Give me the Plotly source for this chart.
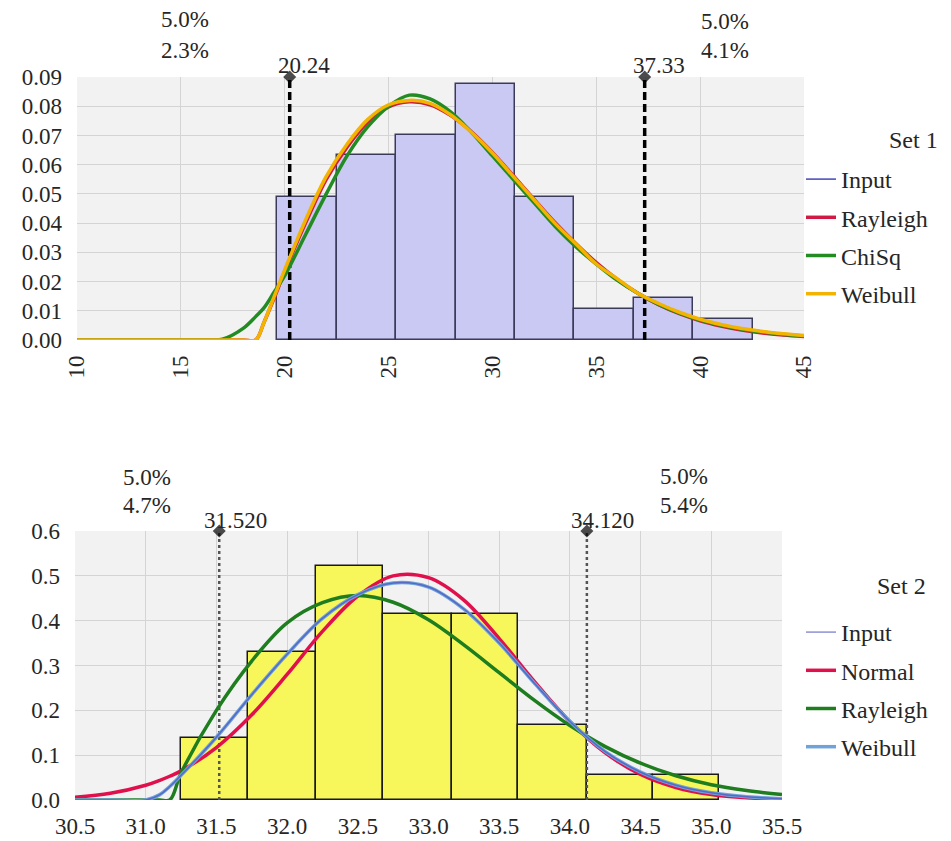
import plotly.graph_objects as go

# ---------------- Set 1 data ----------------
set1_bin_edges = [19.65, 22.51, 25.37, 28.23, 31.09, 33.95, 36.81, 39.67, 42.53]
set1_bin_heights = [0.049, 0.0632, 0.0702, 0.0876, 0.049, 0.0105, 0.0143, 0.0072]

set1_x = [10, 12, 14, 16, 17, 18, 18.6, 19, 19.5, 20, 21, 22, 23, 24, 25, 26, 27, 28, 29, 30,
          31, 32, 33, 34, 35, 36, 37, 38, 39, 40, 41, 42, 43, 44, 45]
set1_rayleigh = [0, 0, 0, 0, 0, 0, 0, 0.006, 0.0145, 0.0235, 0.040, 0.055, 0.066, 0.0745, 0.0798,
                 0.0815, 0.0805, 0.0768, 0.0712, 0.0642, 0.0563, 0.0482, 0.0403, 0.0331, 0.0265,
                 0.0208, 0.0160, 0.0121, 0.0090, 0.0066, 0.0048, 0.0034, 0.0024, 0.0017, 0.0012]
set1_chisq = [0, 0, 0, 0, 0.0003, 0.004, 0.008, 0.011, 0.0165, 0.022, 0.036, 0.050, 0.063, 0.073,
              0.080, 0.0838, 0.0825, 0.078, 0.071, 0.063, 0.055, 0.047, 0.039, 0.032, 0.026,
              0.0205, 0.016, 0.0122, 0.0092, 0.0068, 0.005, 0.0037, 0.0027, 0.0019, 0.0014]
set1_weibull = [0, 0, 0, 0, 0, 0, 0, 0.006, 0.015, 0.024, 0.041, 0.056, 0.067, 0.0755, 0.0805,
                0.082, 0.081, 0.077, 0.071, 0.064, 0.056, 0.048, 0.040, 0.033, 0.026,
                0.021, 0.016, 0.0125, 0.0095, 0.0071, 0.0053, 0.0039, 0.0029, 0.0021, 0.0015]
set1_input = set1_weibull
set1_cutoffs = [20.24, 37.33]
set1_pct_left = ["5.0%", "2.3%"]
set1_pct_right = ["5.0%", "4.1%"]

# ---------------- Set 2 data ----------------
set2_bin_edges = [31.247, 31.726, 32.204, 32.68, 33.164, 33.635, 34.119, 34.59, 35.057]
set2_bin_heights = [0.138, 0.331, 0.523, 0.414, 0.414, 0.167, 0.056, 0.056]

set2_x = [30.5, 30.75, 31.0, 31.1, 31.17, 31.25, 31.5, 31.75, 32.0, 32.25, 32.5, 32.75, 33.0,
          33.25, 33.5, 33.75, 34.0, 34.25, 34.5, 34.75, 35.0, 35.25, 35.5]
set2_normal = [0.006, 0.015, 0.033, 0.044, 0.053, 0.065, 0.117, 0.19, 0.28, 0.376, 0.455, 0.500,
               0.496, 0.446, 0.36, 0.264, 0.175, 0.105, 0.057, 0.028, 0.0124, 0.005, 0.002]
set2_rayleigh = [0, 0, 0, 0, 0, 0.06, 0.2, 0.31, 0.395, 0.44, 0.456, 0.441, 0.402, 0.346, 0.284,
                 0.222, 0.166, 0.119, 0.082, 0.054, 0.034, 0.021, 0.012]
set2_weibull = [0, 0, 0, 0.012, 0.03, 0.055, 0.14, 0.235, 0.325, 0.405, 0.458, 0.484, 0.475,
                0.426, 0.35, 0.26, 0.175, 0.108, 0.062, 0.033, 0.016, 0.007, 0.003]
set2_input = set2_weibull
set2_cutoffs = [31.520, 34.120]
set2_pct_left = ["5.0%", "4.7%"]
set2_pct_right = ["5.0%", "5.4%"]

FONT = "Liberation Serif"
TXT = "#262626"
FS = 23
LFS = 24

# the page body adds an 8px margin; positions below are given in screenshot pixels
W, H = 943, 833
def px_x(p): return (p - 8) / W
def px_y(p): return 1 - (p - 8) / H

fig = go.Figure()

# ---- Set 1 bars
c1 = [(a + b) / 2 for a, b in zip(set1_bin_edges[:-1], set1_bin_edges[1:])]
w1 = [b - a for a, b in zip(set1_bin_edges[:-1], set1_bin_edges[1:])]
fig.add_trace(go.Bar(x=c1, y=set1_bin_heights, width=w1, marker=dict(color="#C9C9F4",
              line=dict(color="#3A3A5A", width=1.5)), showlegend=False, xaxis="x", yaxis="y",
              hoverinfo="skip"))
for v in set1_cutoffs:
    fig.add_trace(go.Scatter(x=[v, v], y=[0, 0.09], mode="lines+markers",
                             line=dict(color="black", width=3.5, dash="8px,4px"),
                             marker=dict(symbol="diamond", size=[0, 10], color="black",
                                         line=dict(color="black", width=0)),
                             showlegend=False, xaxis="x", yaxis="y", cliponaxis=False))
fig.add_trace(go.Scatter(x=set1_x, y=set1_input, name="Input", mode="lines", line=dict(color="#4444BB", width=1.5, shape="spline"), legend="legend", xaxis="x", yaxis="y"))
fig.add_trace(go.Scatter(x=set1_x, y=set1_rayleigh, name="Rayleigh", mode="lines", line=dict(color="#D01A44", width=3.5, shape="spline"), legend="legend", xaxis="x", yaxis="y"))
fig.add_trace(go.Scatter(x=set1_x, y=set1_chisq, name="ChiSq", mode="lines", line=dict(color="#228B22", width=3.5, shape="spline"), legend="legend", xaxis="x", yaxis="y"))
fig.add_trace(go.Scatter(x=set1_x, y=set1_weibull, name="Weibull", mode="lines", line=dict(color="#F2B400", width=3.5, shape="spline"), legend="legend", xaxis="x", yaxis="y"))

# ---- Set 2 bars
c2 = [(a + b) / 2 for a, b in zip(set2_bin_edges[:-1], set2_bin_edges[1:])]
w2 = [b - a for a, b in zip(set2_bin_edges[:-1], set2_bin_edges[1:])]
fig.add_trace(go.Bar(x=c2, y=set2_bin_heights, width=w2, marker=dict(color="#F7F75C",
              line=dict(color="#1A1A1A", width=1.5)), showlegend=False, xaxis="x2", yaxis="y2",
              hoverinfo="skip"))
for v in set2_cutoffs:
    fig.add_trace(go.Scatter(x=[v, v], y=[0, 0.6], mode="lines+markers",
                             line=dict(color="#555555", width=2.5, dash="dot"),
                             marker=dict(symbol="diamond", size=[0, 10], color="black",
                                         line=dict(color="black", width=0)),
                             showlegend=False, xaxis="x2", yaxis="y2", cliponaxis=False))
fig.add_trace(go.Scatter(x=set2_x, y=set2_normal, name="Normal", mode="lines", line=dict(color="#E0104C", width=3.5, shape="spline"), legend="legend2", xaxis="x2", yaxis="y2", legendrank=2))
fig.add_trace(go.Scatter(x=set2_x, y=set2_rayleigh, name="Rayleigh", mode="lines", line=dict(color="#1E7D1E", width=3.5, shape="spline"), legend="legend2", xaxis="x2", yaxis="y2", legendrank=3))
fig.add_trace(go.Scatter(x=set2_x, y=set2_weibull, name="Weibull", mode="lines", line=dict(color="#6FA3DA", width=3.5, shape="spline"), legend="legend2", xaxis="x2", yaxis="y2", legendrank=4))
fig.add_trace(go.Scatter(x=set2_x, y=set2_input, name="Input", mode="lines", line=dict(color="#4444BB", width=1.5, shape="spline"), legend="legend2", xaxis="x2", yaxis="y2", legendrank=1, opacity=0.6))

axis_common = dict(showgrid=True, gridcolor="#D4D4D4", gridwidth=1, zeroline=False,
                   showline=False, ticks="", automargin=False,
                   tickfont=dict(family=FONT, size=FS, color=TXT))

def ann(text, x, y, **kw):
    d = dict(text=text, x=px_x(x), y=px_y(y), xref="paper", yref="paper", showarrow=False,
             xanchor="center", yanchor="middle", font=dict(family=FONT, size=FS, color=TXT))
    d.update(kw)
    return d

annotations = []
for txt, yy in zip(set1_pct_left, [20, 50]):
    annotations.append(ann(txt, 185, yy))
for txt, yy in zip(set1_pct_right, [21, 50]):
    annotations.append(ann(txt, 725, yy))
for txt, yy in zip(set2_pct_left, [477, 505]):
    annotations.append(ann(txt, 147, yy))
for txt, yy in zip(set2_pct_right, [476, 505]):
    annotations.append(ann(txt, 684, yy))
for v in set1_cutoffs:
    annotations.append(dict(text=f"{v:.2f}", x=v, y=0.09, xref="x", yref="y", showarrow=False,
                            xanchor="center", yanchor="middle", xshift=14, yshift=12,
                            font=dict(family=FONT, size=FS, color=TXT)))
for v in set2_cutoffs:
    annotations.append(dict(text=f"{v:.3f}", x=v, y=0.6, xref="x2", yref="y2", showarrow=False,
                            xanchor="center", yanchor="middle", xshift=16, yshift=11,
                            font=dict(family=FONT, size=FS, color=TXT)))
annotations.append(ann("Set 1", 940, 140, xanchor="right", font=dict(family=FONT, size=LFS, color=TXT)))
annotations.append(ann("Set 2", 928, 586, xanchor="right", font=dict(family=FONT, size=LFS, color=TXT)))

legend_common = dict(font=dict(family=FONT, size=LFS, color=TXT), bgcolor="rgba(0,0,0,0)",
                     xanchor="left", yanchor="top", tracegroupgap=4, itemwidth=30,
                     traceorder="grouped")

fig.update_layout(
    width=W, height=H, margin=dict(l=0, r=0, t=0, b=0), paper_bgcolor="white",
    plot_bgcolor="#F2F2F2", barmode="overlay", bargap=0,
    font=dict(family=FONT, color=TXT),
    xaxis=dict(axis_common, domain=[px_x(77), px_x(804)], range=[10, 45], dtick=5, tick0=10,
               tickangle=-90, anchor="y", ticklabelstandoff=10),
    yaxis=dict(axis_common, domain=[px_y(340), px_y(77)], range=[0, 0.09], dtick=0.01,
               tickformat=".2f", anchor="x", ticklabelstandoff=14),
    xaxis2=dict(axis_common, domain=[px_x(75), px_x(782)], range=[30.5, 35.5], dtick=0.5,
                tick0=30.5, tickformat=".1f", anchor="y2", ticklabelstandoff=10),
    yaxis2=dict(axis_common, domain=[px_y(800), px_y(531)], range=[0, 0.6], dtick=0.1,
                tickformat=".1f", anchor="x2", ticklabelstandoff=14),
    legend=dict(legend_common, x=px_x(801), y=px_y(157)),
    legend2=dict(legend_common, x=px_x(801), y=px_y(610)),
    annotations=annotations,
)

for tr in fig.data:
    if tr.showlegend is not False and tr.name:
        tr.legendgroup = tr.name + str(tr.legend)

fig.write_html("out.html")
